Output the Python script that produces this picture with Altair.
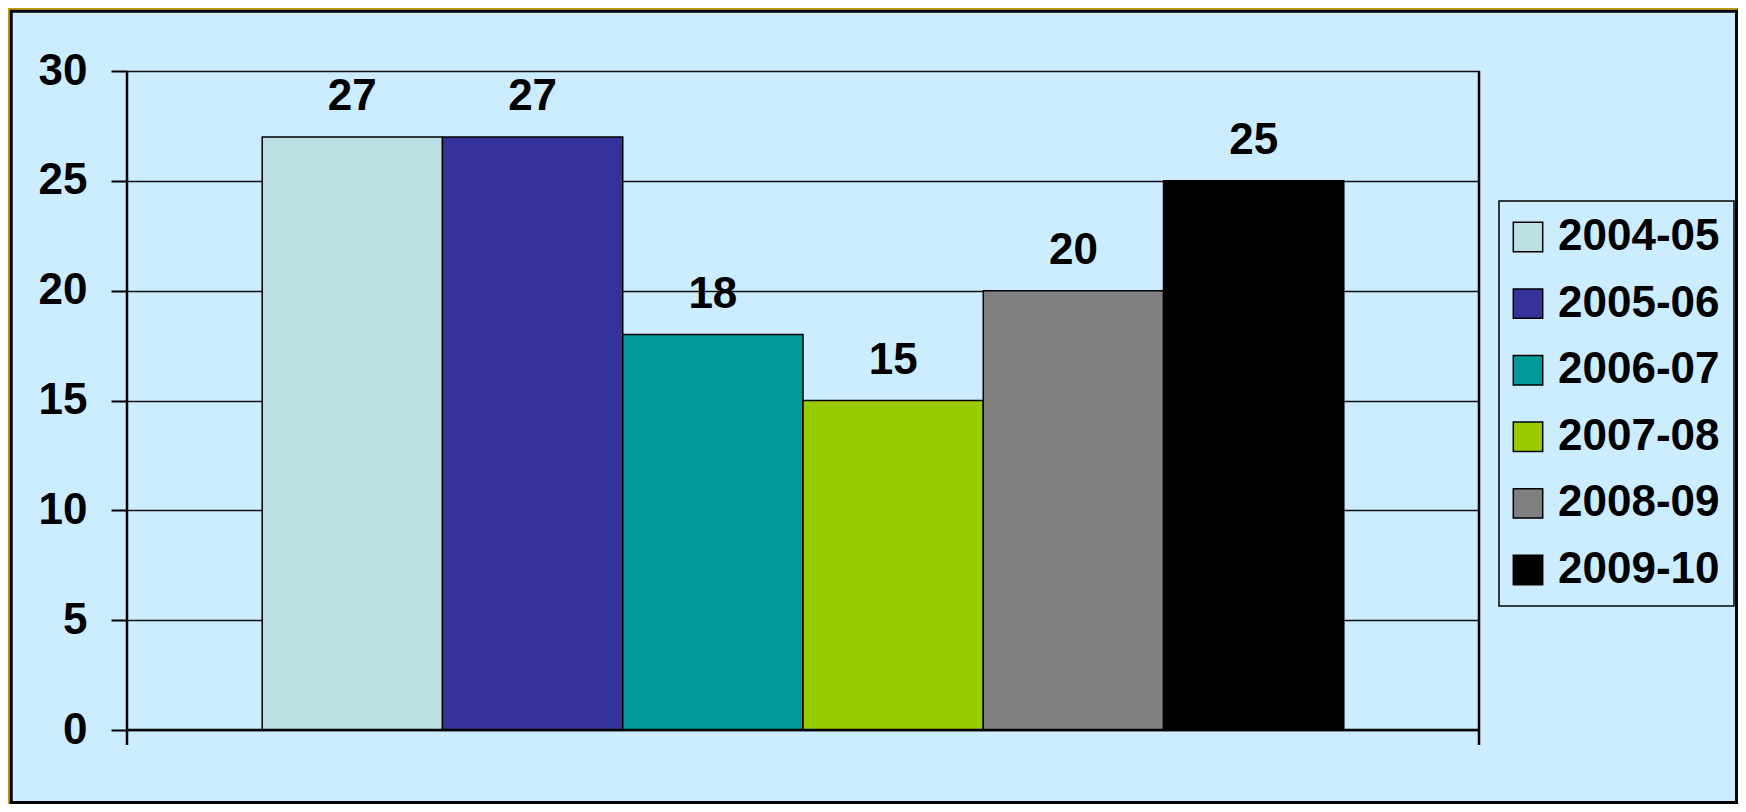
import altair as alt
import pandas as pd

seasons = ["2004-05", "2005-06", "2006-07", "2007-08", "2008-09", "2009-10"]
values = [27, 27, 18, 15, 20, 25]
colors = ["#BBE0E3", "#333399", "#009999", "#99CC00", "#808080", "#000000"]
y_ticks = [0, 5, 10, 15, 20, 25, 30]

df = pd.DataFrame({"season": seasons, "value": values})
one = pd.DataFrame({"k": [0]})

W, H = 1352, 659
PAD_L, PAD_T = 119, 63
TOT_W, TOT_H = 1730, 796
PAD_R = TOT_W - PAD_L - W
PAD_B = TOT_H - PAD_T - H
FONT = "Liberation Sans"

x = alt.X("season:N", sort=seasons,
          scale=alt.Scale(paddingInner=0, paddingOuter=0.75), axis=None)
y = alt.Y("value:Q",
          scale=alt.Scale(domain=[0, 30], nice=False, zero=True),
          axis=alt.Axis(values=y_ticks, grid=True, gridColor="#111111", gridWidth=1.5,
                        domain=False, ticks=True, tickSize=16, tickWidth=2,
                        tickColor="#000000", labelFont=FONT, labelFontSize=44,
                        labelFontWeight="bold", labelColor="#000000",
                        labelPadding=24, title=None))
color = alt.Color("season:N", sort=seasons,
                  scale=alt.Scale(domain=seasons, range=colors),
                  legend=alt.Legend(title=None, orient="none", legendX=1372, legendY=130,
                                    direction="vertical", symbolType="square",
                                    symbolSize=865, symbolStrokeColor="#000000",
                                    symbolStrokeWidth=1.5, symbolOpacity=1,
                                    symbolOffset=-7,
                                    labelFont=FONT, labelFontSize=44,
                                    labelFontWeight="bold", labelColor="#000000",
                                    labelLimit=400,
                                    labelOffset=8, padding=14, rowPadding=22.6,
                                    strokeColor="#000000"))

bars = alt.Chart(df).mark_bar(stroke="#000000", strokeWidth=1.5, opacity=1).encode(
    x=x, y=y, color=color)

labels = alt.Chart(df).mark_text(font=FONT, fontSize=44, fontWeight="bold",
                                 baseline="alphabetic", dy=-27, color="#000000").encode(
    x=x, y=alt.Y("value:Q"), text="value:Q")

base = alt.Chart(one)
left_line = base.mark_rule(color="#000000", strokeWidth=2.5).encode(
    x=alt.value(0), y=alt.value(0), y2=alt.value(H + 15))
right_line = base.mark_rule(color="#000000", strokeWidth=2.5).encode(
    x=alt.value(W), y=alt.value(0), y2=alt.value(H + 15))
bottom_line = base.mark_rule(color="#000000", strokeWidth=2.5).encode(
    x=alt.value(0), x2=alt.value(W), y=alt.value(H))

outer_gold = base.mark_rect(fill="transparent", stroke="#C89B00", strokeWidth=1.8).encode(
    x=alt.value(-PAD_L + 0.9), x2=alt.value(TOT_W - PAD_L - 0.9),
    y=alt.value(-PAD_T + 0.9), y2=alt.value(TOT_H - PAD_T - 0.9))
outer_black = base.mark_rect(fill="transparent", stroke="#000000", strokeWidth=3).encode(
    x=alt.value(-PAD_L + 3.2), x2=alt.value(TOT_W - PAD_L - 1.5),
    y=alt.value(-PAD_T + 3.2), y2=alt.value(TOT_H - PAD_T - 1.5))

chart = alt.layer(bars, labels, left_line, right_line, bottom_line, outer_gold, outer_black).properties(
    width=W, height=H,
    autosize=alt.AutoSizeParams(type="none"),
    padding={"left": PAD_L, "top": PAD_T, "right": PAD_R, "bottom": PAD_B},
    background="#CCECFF",
).configure_view(stroke=None).configure_legend(strokeWidth=1.5)

chart.save("out.html", embed_options={"renderer": "svg", "actions": False})
